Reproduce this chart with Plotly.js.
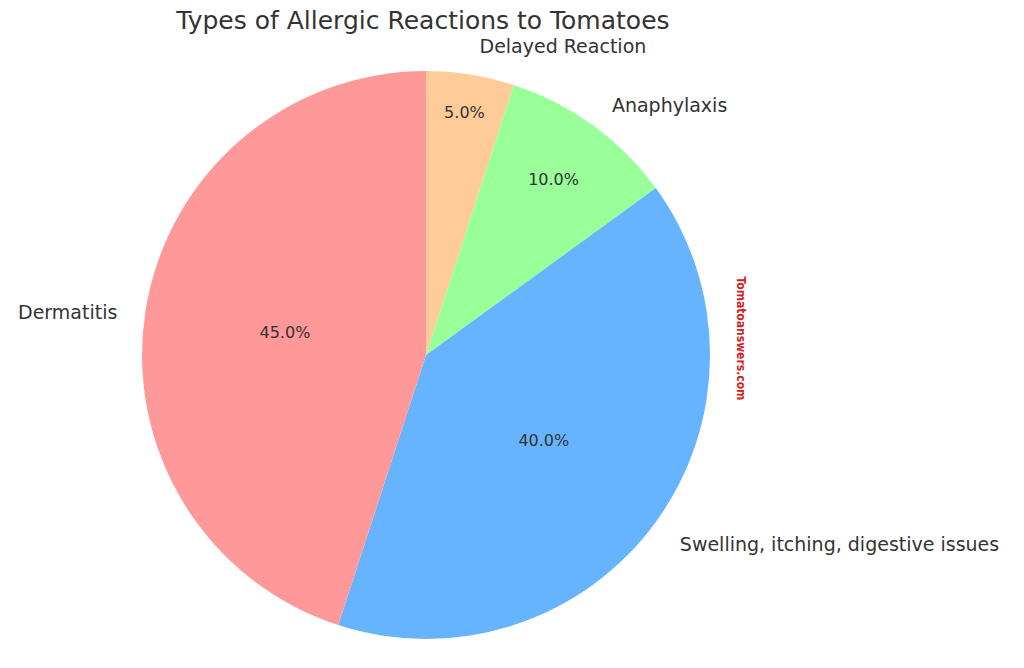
<!DOCTYPE html>
<html>
<head>
<meta charset="utf-8">
<script src="https://cdn.plot.ly/plotly-3.0.1.min.js"></script>
<style>html,body{margin:0;padding:0;background:#fff;}#chart{width:1024px;height:668px;}</style>
</head>
<body>
<div id="chart"></div>
<script>
// Listed clockwise from 12 o'clock
const categories = ["Delayed Reaction", "Anaphylaxis", "Swelling, itching, digestive issues", "Dermatitis"];
const shares = [5, 10, 40, 45];
const sliceColors = ["#ffcc99", "#99ff99", "#66b3ff", "#ff9999"];

const pieDomain = {x: [0.1387, 0.6934], y: [0.0434, 0.8937]};
const labelDomain = {x: [0.1162, 0.7158], y: [0.0015, 0.9205]};

const pctTrace = {
  type: "pie",
  labels: categories,
  values: shares,
  sort: false,
  direction: "clockwise",
  rotation: 0,
  domain: pieDomain,
  marker: {colors: sliceColors, line: {width: 0}},
  textinfo: "percent",
  texttemplate: "%{percent:.1%}",
  textposition: "inside",
  insidetextorientation: "horizontal",
  insidetextfont: {family: "DejaVu Sans", size: 16, color: "#333333"},
  showlegend: false,
  hoverinfo: "label+percent"
};

const labelTrace = {
  type: "pie",
  labels: categories,
  values: shares,
  sort: false,
  direction: "clockwise",
  rotation: 0,
  domain: labelDomain,
  marker: {colors: ["rgba(0,0,0,0)","rgba(0,0,0,0)","rgba(0,0,0,0)","rgba(0,0,0,0)"], line: {width: 0}},
  textinfo: "label",
  textposition: "outside",
  outsidetextfont: {family: "DejaVu Sans", size: 19, color: "#333333"},
  showlegend: false,
  hoverinfo: "skip"
};

const layout = {
  width: 1024,
  height: 668,
  margin: {l: 0, r: 0, t: 0, b: 0},
  paper_bgcolor: "#ffffff",
  title: {
    text: "Types of Allergic Reactions to Tomatoes",
    x: 0.413, xanchor: "center",
    y: 0.970, yanchor: "middle",
    font: {family: "DejaVu Sans", size: 25, color: "#333333"}
  },
  annotations: [{
    text: "<b>Tomatoanswers.com</b>",
    xref: "paper", yref: "paper",
    x: 0.732, y: 0.494,
    showarrow: false,
    textangle: 90,
    font: {family: "DejaVu Sans Condensed, Liberation Sans Narrow", size: 12, color: "#d42020"}
  }]
};

Plotly.newPlot("chart", [pctTrace, labelTrace], layout, {displayModeBar: false, staticPlot: true});
</script>
</body>
</html>
